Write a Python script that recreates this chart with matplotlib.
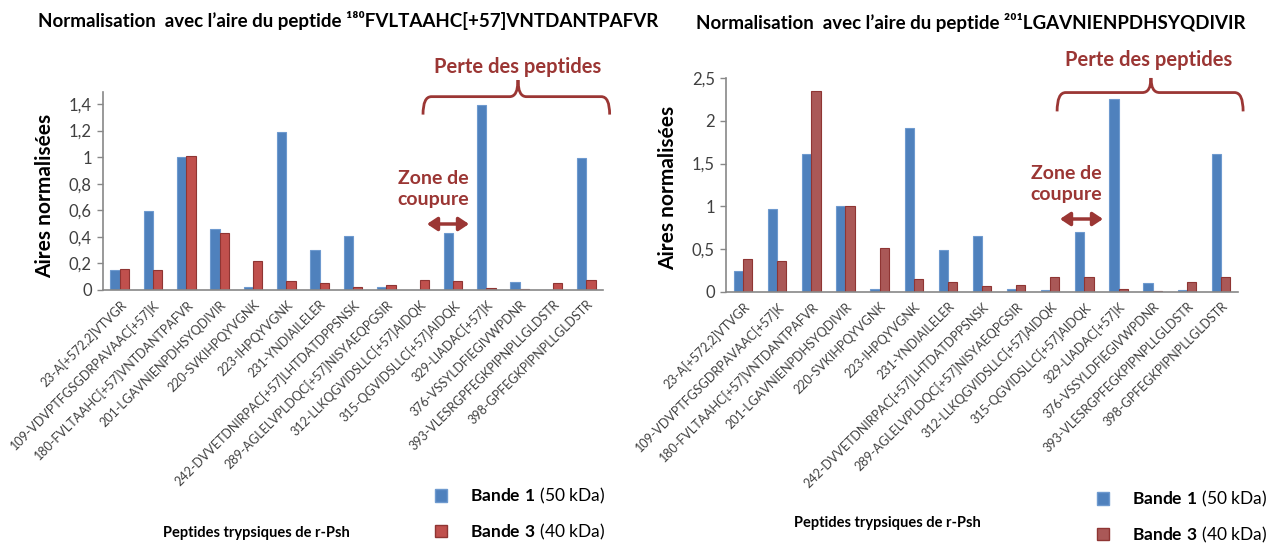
import numpy as np
import matplotlib
matplotlib.use("Agg")
import matplotlib.pyplot as plt
from matplotlib.path import Path
import matplotlib.patches as mpatches

plt.rcParams['font.family'] = ['Lato', 'DejaVu Sans']
plt.rcParams['mathtext.fontset'] = 'custom'
plt.rcParams['mathtext.rm'] = 'Lato'
plt.rcParams['mathtext.bf'] = 'Lato:bold'

peptides = ['23-A[+572,2]VTVGR', '109-VDVPTFGSGDRPAVAAC[+57]K',
            '180-FVLTAAHC[+57]VNTDANTPAFVR', '201-LGAVNIENPDHSYQDIVIR',
            '220-SVKIHPQYVGNK', '223-IHPQYVGNK', '231-YNDIAILELER',
            '242-DVVETDNIRPAC[+57]LHTDATDPPSNSK',
            '289-AGLELVPLDQC[+57]NISYAEQPGSIR',
            '312-LLKQGVIDSLLC[+57]AIDQK', '315-QGVIDSLLC[+57]AIDQK',
            '329-LIADAC[+57]K', '376-VSSYLDFIEGIVWPDNR',
            '393-VLESRGPFEGKPIPNPLLGLDSTR', '398-GPFEGKPIPNPLLGLDSTR']

# normalised with 180-FVLTAAHC... peptide
left_b1 = [0.15, 0.595, 1.0, 0.46, 0.02, 1.19, 0.30, 0.41, 0.025, 0.0,
           0.43, 1.39, 0.06, 0.0, 0.99]
left_b3 = [0.16, 0.15, 1.005, 0.43, 0.22, 0.07, 0.05, 0.025, 0.035, 0.075,
           0.068, 0.017, 0.01, 0.05, 0.075]
# normalised with 201-LGAVNIENPDHSYQDIVIR peptide
right_b1 = [0.25, 0.97, 1.61, 1.0, 0.035, 1.92, 0.49, 0.65, 0.04, 0.02,
            0.70, 2.25, 0.105, 0.02, 1.61]
right_b3 = [0.385, 0.36, 2.35, 1.01, 0.51, 0.155, 0.12, 0.065, 0.08, 0.18,
            0.17, 0.04, 0.015, 0.12, 0.18]

BLUE = '#4F81BD'
RED_L = '#C0504D'
RED_R = '#AA5857'
DARK_RED = '#9B3634'
GREY = '#888888'
TXT = '#404040'

W, H = 1283, 548
fig = plt.figure(figsize=(W / 100, H / 100), dpi=100)


def fx(px):
    return px / W


def fy(py):
    return 1 - py / H


def draw_panel(rect, b1, b3, red, ymax, yticks, bw):
    ax = fig.add_axes(rect)
    x = np.arange(len(peptides))
    ax.bar(x - bw / 2, b1, bw, color=BLUE, edgecolor='#6E9ACF', linewidth=0.8)
    ax.bar(x + bw / 2, b3, bw, color=red, edgecolor='#8F3533', linewidth=0.8)
    ax.set_xlim(-0.5, len(peptides) - 0.5)
    ax.set_ylim(0, ymax)
    ax.set_yticks(yticks)
    ax.set_yticklabels([('%g' % v).replace('.', ',') for v in yticks],
                       fontsize=12, color=TXT)
    ax.set_xticks(x)
    ax.set_xticklabels(peptides, rotation=45, ha='right', va='top',
                       rotation_mode='anchor', fontsize=9, color=TXT)
    ax.tick_params(axis='x', length=0, pad=6)
    ax.tick_params(axis='y', length=4, width=1, color=GREY, direction='out', pad=4)
    for s in ['top', 'right']:
        ax.spines[s].set_visible(False)
    for s in ['left', 'bottom']:
        ax.spines[s].set_color(GREY)
        ax.spines[s].set_linewidth(1.2)
    return ax


def brace(ax, x0, x1, xc, y_end, y_mid, y_tip, dx):
    verts = [(x0, y_end), (x0, y_mid), (x0 + dx, y_mid),
             (xc - dx, y_mid), (xc, y_mid), (xc, y_tip),
             (xc, y_mid), (xc + dx, y_mid),
             (x1 - dx, y_mid), (x1, y_mid), (x1, y_end)]
    codes = [Path.MOVETO, Path.CURVE3, Path.CURVE3,
             Path.LINETO, Path.CURVE3, Path.CURVE3,
             Path.CURVE3, Path.CURVE3,
             Path.LINETO, Path.CURVE3, Path.CURVE3]
    ax.add_patch(mpatches.PathPatch(Path(verts, codes), facecolor='none',
                                    edgecolor=DARK_RED, linewidth=2,
                                    clip_on=False))


# left panel
axl = draw_panel([fx(103), fy(290), fx(603 - 103), (290 - 92) / H],
                 left_b1, left_b3, RED_L, 1.49, [0, 0.2, 0.4, 0.6, 0.8, 1.0, 1.2, 1.4], 0.28)
brace(axl, 9.1, 14.7, 11.95, 1.32, 1.455, 1.58, 0.25)

# right panel
axr = draw_panel([fx(726), fy(292), fx(1238 - 726), (292 - 78) / H],
                 right_b1, right_b3, RED_R, 2.5, [0, 0.5, 1, 1.5, 2, 2.5], 0.27)
brace(axr, 9.2, 14.65, 11.95, 2.11, 2.33, 2.5, 0.25)

# titles
fig.text(fx(348), fy(20), 'Normalisation  avec l\u2019aire du peptide \u00b9\u2078\u2070FVLTAAHC[+57]VNTDANTPAFVR',
         ha='center', va='center', fontsize=13.5, fontweight='bold', color='black')
fig.text(fx(971), fy(22), 'Normalisation  avec l\u2019aire du peptide \u00b2\u2070\u00b9LGAVNIENPDHSYQDIVIR',
         ha='center', va='center', fontsize=13.5, fontweight='bold', color='black')

# y labels
fig.text(fx(45), fy(196), 'Aires normalisées', rotation=90, ha='center', va='center',
         fontsize=15, fontweight='bold', color='black')
fig.text(fx(668), fy(188), 'Aires normalisées', rotation=90, ha='center', va='center',
         fontsize=15, fontweight='bold', color='black')

# x labels
fig.text(fx(256), fy(533), 'Peptides trypsiques de r-Psh', ha='center', va='center',
         fontsize=10.5, fontweight='bold', color='black')
fig.text(fx(887), fy(523), 'Peptides trypsiques de r-Psh', ha='center', va='center',
         fontsize=10.5, fontweight='bold', color='black')

# annotations
for cx, cy in [(518, 67), (1149, 60)]:
    fig.text(fx(cx), fy(cy), 'Perte des peptides', ha='center', va='center',
             fontsize=14.5, fontweight='bold', color=DARK_RED)
for cx, cy in [(433, 189), (1066, 184)]:
    fig.text(fx(cx), fy(cy), 'Zone de\ncoupure', ha='center', va='center',
             fontsize=14, fontweight='bold', color=DARK_RED, linespacing=1.25)
for xa, xb, ya in [(427, 469, 224), (1060, 1103, 219)]:
    fig.add_artist(mpatches.FancyArrowPatch((fx(xa), fy(ya)), (fx(xb), fy(ya)),
                                            transform=fig.transFigure,
                                            arrowstyle='<|-|>,head_length=6,head_width=4',
                                            color=DARK_RED, linewidth=2.5,
                                            shrinkA=0, shrinkB=0))

# legends
for ax, red, lx, ly in [(axl, RED_L, 435, 514), (axr, RED_R, 1097, 517)]:
    handles = [mpatches.Patch(facecolor=BLUE, edgecolor='#6E9ACF'),
               mpatches.Patch(facecolor=red, edgecolor='#8F3533')]
    labels = [r'$\mathbf{Bande\ 1}$ (50 kDa)', r'$\mathbf{Bande\ 3}$ (40 kDa)']
    ax.legend(handles, labels, loc='center left', bbox_to_anchor=(fx(lx), fy(ly)),
              bbox_transform=fig.transFigure, frameon=False, fontsize=12.5,
              handlelength=0.7, handleheight=0.7, handletextpad=1.3,
              labelspacing=0.9, borderpad=0, borderaxespad=0)

fig.savefig('out.png', dpi=100)
